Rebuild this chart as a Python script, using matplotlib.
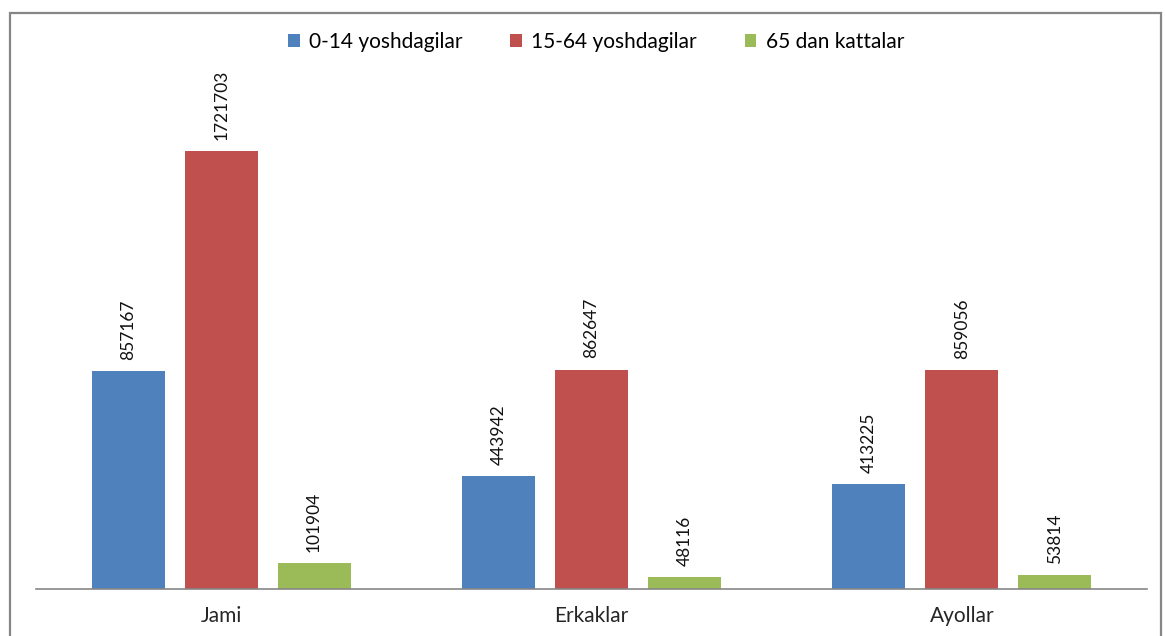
import matplotlib.pyplot as plt
import numpy as np
from matplotlib.patches import Rectangle

categories = ['Jami', 'Erkaklar', 'Ayollar']
series_names = ['0-14 yoshdagilar', '15-64 yoshdagilar', '65 dan kattalar']
age_0_14 = [857167, 443942, 413225]
age_15_64 = [1721703, 862647, 859056]
age_65 = [101904, 48116, 53814]

colors = ['#4F81BD', '#C0504D', '#9BBB59']

plt.rcParams['font.family'] = ['Lato', 'DejaVu Sans']

fig = plt.figure(figsize=(11.65, 6.36), dpi=100)
ax = fig.add_axes([36 / 1165, 47 / 636, 1111 / 1165, 529 / 636])

# chart area border
fig.patches.append(Rectangle((10 / 1165, -0.05), 1151 / 1165, 1.05 - 13 / 636,
                             transform=fig.transFigure, fill=False,
                             edgecolor='#868686', linewidth=1.6))

x = np.arange(len(categories))
width = 0.197
step = 0.251
for i, (vals, name) in enumerate(zip([age_0_14, age_15_64, age_65], series_names)):
    pos = x + (i - 1) * step
    bars = ax.bar(pos, vals, width, color=colors[i], label=name, zorder=2)
    for b, v in zip(bars, vals):
        ax.annotate(str(v), (b.get_x() + b.get_width() / 2, v),
                    xytext=(0, 8), textcoords='offset points',
                    rotation=90, ha='center', va='bottom',
                    fontsize=12.5, color='#111111', annotation_clip=False)

ax.set_xlim(-0.5, 2.5)
ax.set_ylim(0, 2079000)
ax.set_xticks(x)
ax.set_xticklabels(categories, fontsize=15, color='#262626')
ax.tick_params(axis='x', length=0, pad=12)
ax.set_yticks([])
for side in ['top', 'right', 'left']:
    ax.spines[side].set_visible(False)
ax.spines['bottom'].set_color('#868686')
ax.spines['bottom'].set_linewidth(1.2)

fig.legend(loc='center', bbox_to_anchor=(596 / 1165, 1 - 42 / 636), ncol=3,
           frameon=False, fontsize=15, handlelength=0.55, handleheight=0.55,
           handletextpad=0.45, columnspacing=2.3)

fig.savefig('out.png', dpi=100)
